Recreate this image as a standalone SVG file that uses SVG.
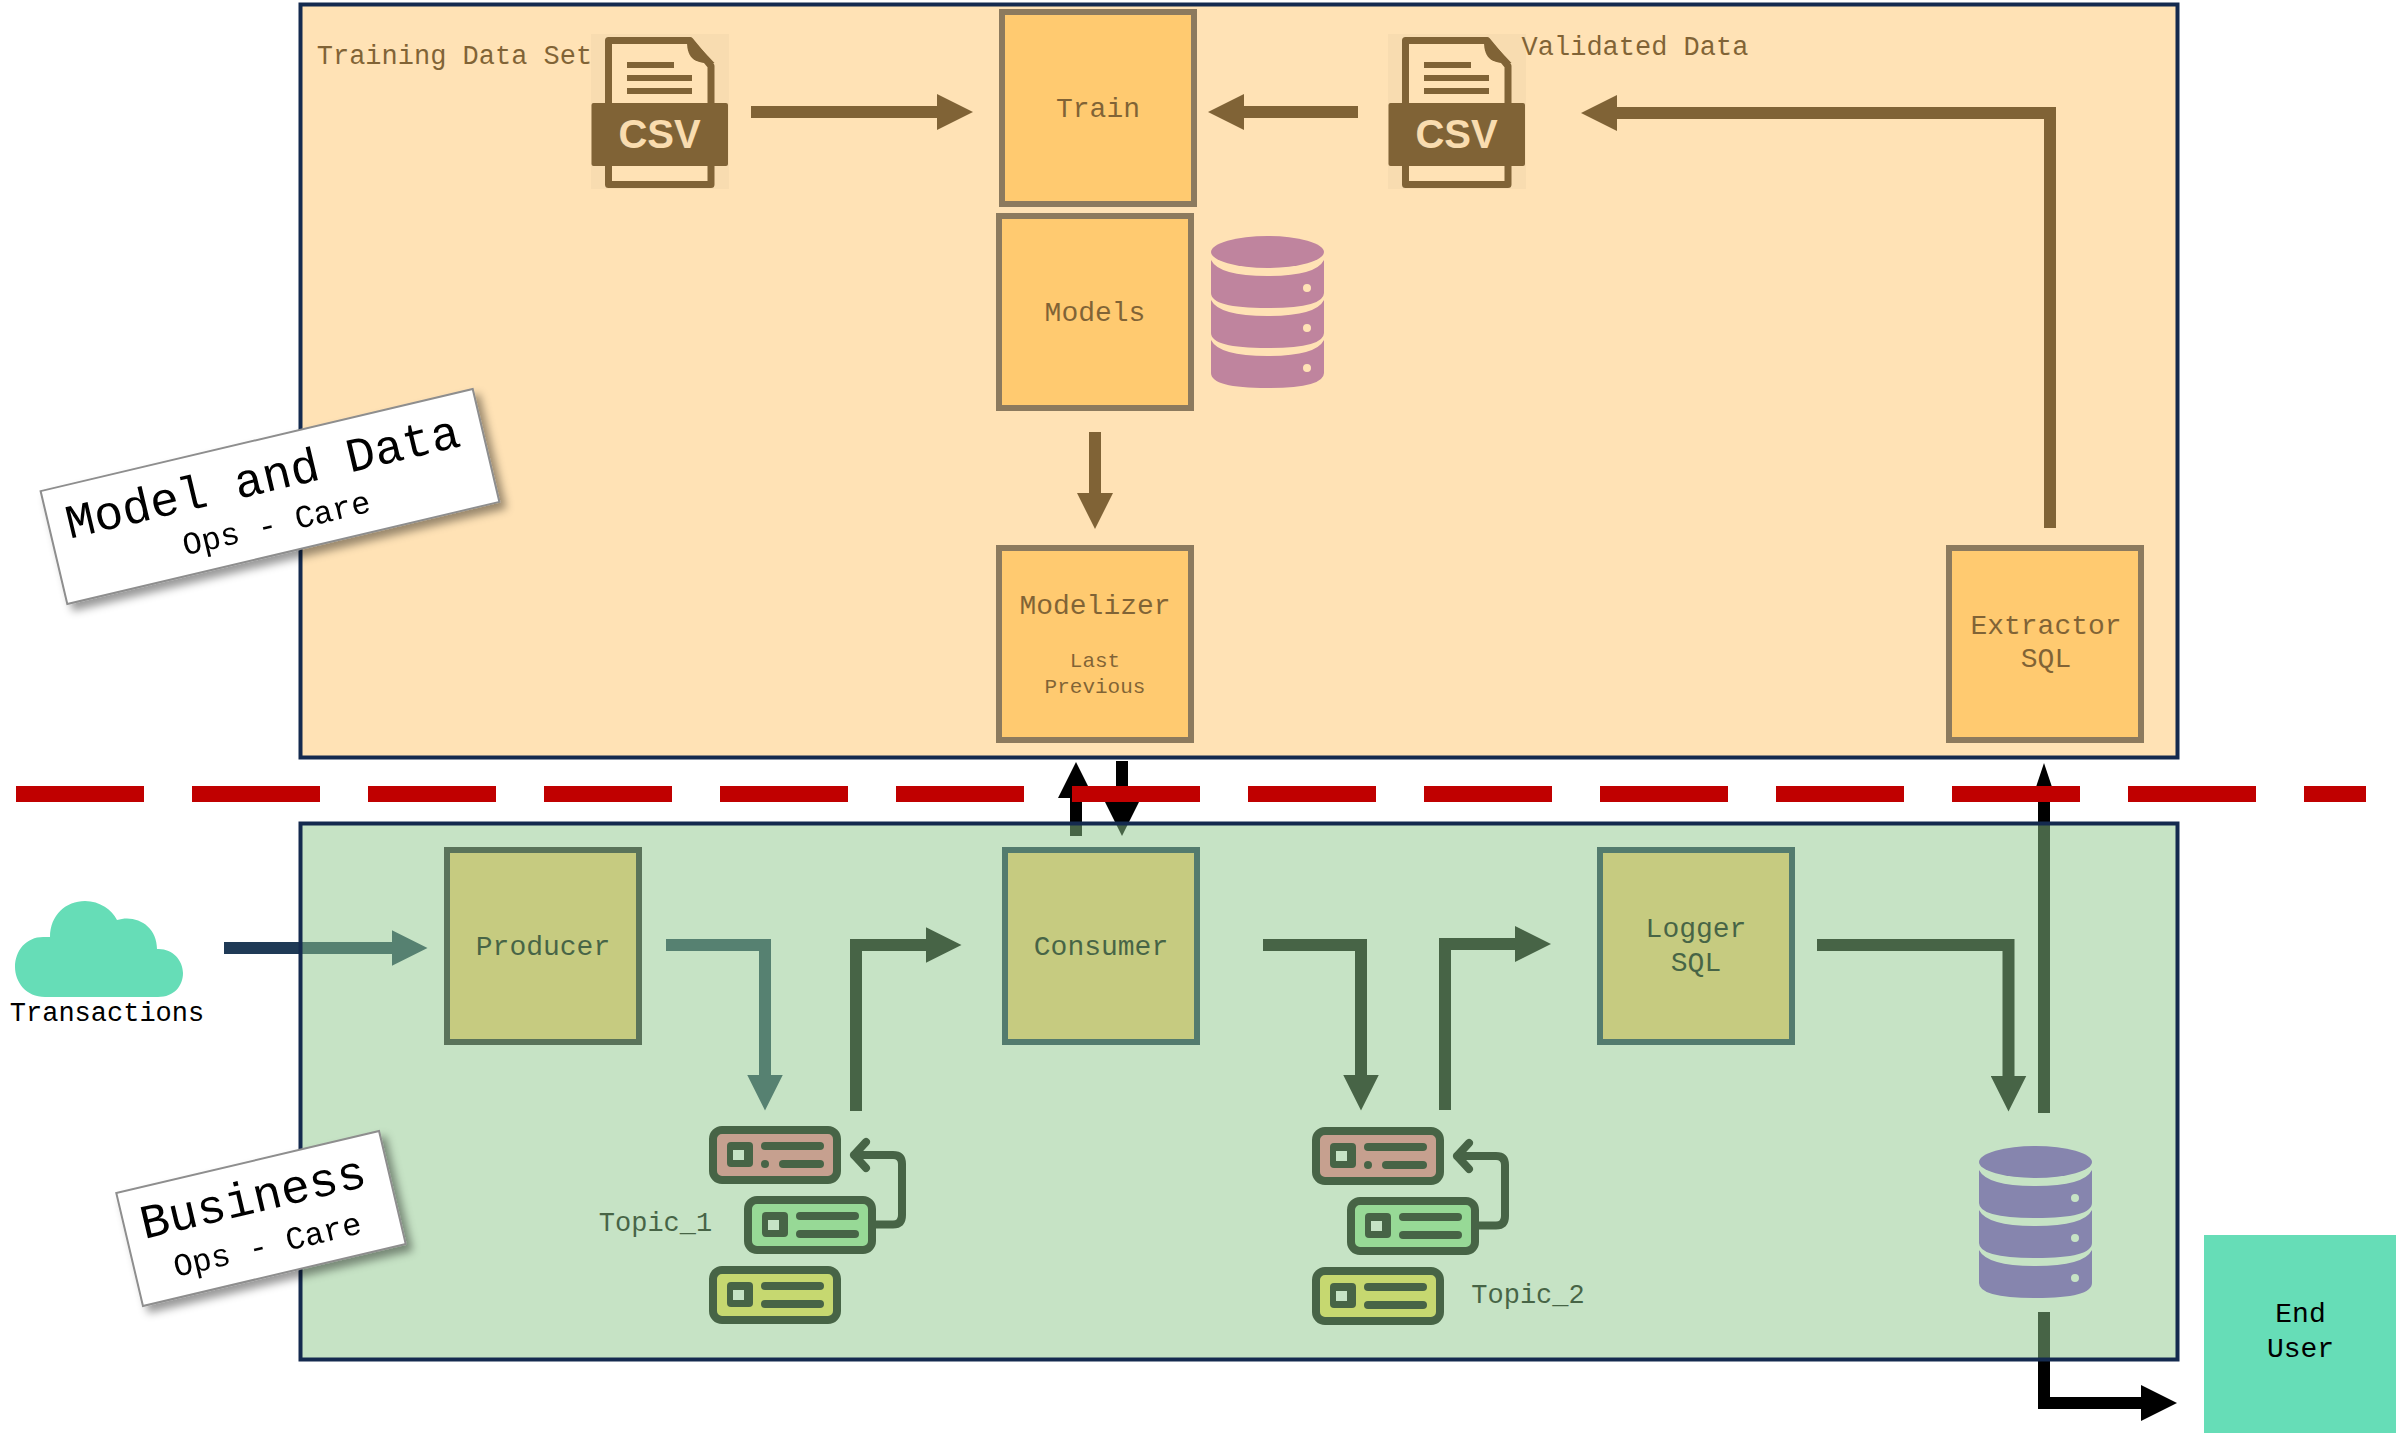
<svg xmlns="http://www.w3.org/2000/svg" xmlns:xlink="http://www.w3.org/1999/xlink" width="2402" height="1433" viewBox="0 0 2402 1433">
<style>
text{font-family:"Liberation Mono","Courier New",monospace;text-anchor:middle;fill:#000}
.lbl{font-size:28px}.sm{font-size:27px}.xs{font-size:21px}.big{font-size:48px}.sub{font-size:32px}
.box{fill:#FFCE74;stroke:#182E50;stroke-width:6}
.conn{fill:none;stroke-width:12;stroke-linejoin:miter}
.blk{stroke:#000;marker-end:url(#hBlack)}
.nvy{stroke:#1F3A56;marker-end:url(#hNavy)}
.tag{fill:#fff;stroke:#8E8E8E;stroke-width:2}
.ic{fill:#000}
.srv{stroke:#000;stroke-width:8;stroke-linecap:round;stroke-linejoin:round;fill:none}
.pan{stroke:#142A4F;stroke-width:4}
</style>
<defs>
<marker id="hBlack" markerUnits="userSpaceOnUse" markerWidth="36" markerHeight="36" refX="0.5" refY="18" orient="auto"><path d="M0 0L36 18L0 36Z" fill="#000"/></marker>
<marker id="hNavy" markerUnits="userSpaceOnUse" markerWidth="36" markerHeight="36" refX="0.5" refY="18" orient="auto"><path d="M0 0L36 18L0 36Z" fill="#1F3A56"/></marker>
<marker id="hNarrow" markerUnits="userSpaceOnUse" markerWidth="39" markerHeight="26" refX="0.5" refY="13" orient="auto"><path d="M0 0L39 13L0 26Z" fill="#000"/></marker>
<filter id="sh" x="-10%" y="-20%" width="125%" height="150%"><feDropShadow dx="6" dy="6" stdDeviation="4" flood-color="#000" flood-opacity="0.4"/></filter>
<g id="csv">
<rect x="591" y="34" width="138" height="155" fill="#F1F3F5"/>
<path d="M608.500 40.500H690L711 66V184.500H608.500Z" fill="#fff" stroke="#000" stroke-width="7" stroke-linejoin="round"/>
<path d="M690 37L714.500 63C700 64 687 62 687 42Z" class="ic"/>
<rect x="627" y="62" width="47" height="6" class="ic"/><rect x="627" y="75" width="65" height="6" class="ic"/><rect x="627" y="88" width="65" height="6" class="ic"/>
<rect x="591.500" y="103" width="136.500" height="63" rx="2" class="ic"/>
<text x="659.500" y="148" style="font-family:'Liberation Sans',Arial,sans-serif;font-weight:700;font-size:40px;fill:#F2F2F2">CSV</text>
</g>
<g id="db">
<ellipse cx="56.500" cy="16" rx="56.500" ry="16"/>
<path id="dbb" fill-rule="evenodd" d="M0 24Q8 40 56.500 40Q105 40 113 24V57Q113 72 56.500 72Q0 72 0 57ZM92 52a4 4 0 1 0 8 0a4 4 0 1 0-8 0Z"/>
<use xlink:href="#dbb" href="#dbb" y="40"/><use xlink:href="#dbb" href="#dbb" y="80"/>
</g>
<g id="topics">
<rect x="713" y="1130" width="124" height="50" rx="9" style="fill:#FF7892" class="srv"/>
<rect x="748" y="1200" width="124" height="50" rx="9" style="fill:#A0EAA0" class="srv"/>
<rect x="713" y="1270" width="124" height="50" rx="9" style="fill:#FFE854" class="srv"/>
<g id="srvIn"><rect x="727" y="1142" width="26" height="25" rx="4" class="ic"/><rect x="733" y="1150" width="11" height="10" fill="#fff"/></g>
<use xlink:href="#srvIn" href="#srvIn" x="35" y="70"/><use xlink:href="#srvIn" href="#srvIn" y="140"/>
<rect x="761" y="1142" width="63" height="8" rx="4" class="ic"/><circle cx="765" cy="1164" r="4" class="ic"/><rect x="779" y="1160" width="45" height="8" rx="4" class="ic"/>
<rect x="796" y="1212" width="63" height="8" rx="4" class="ic"/><rect x="796" y="1230" width="63" height="8" rx="4" class="ic"/>
<rect x="761" y="1282" width="63" height="8" rx="4" class="ic"/><rect x="761" y="1300" width="63" height="8" rx="4" class="ic"/>
<path class="srv" d="M876 1224.500H893Q902 1224.500 902 1215V1164Q902 1155 893 1155H854M866 1142L854 1155L866 1168"/>
</g>
</defs>

<g id="connectors">
<path class="conn blk" d="M751 112H937.500" />
<path class="conn blk" d="M1358 112H1243.500"/>
<path class="conn blk" d="M2050 528V113H1616.500"/>
<path class="conn blk" d="M1095 432V493.500"/>
<path class="conn nvy" d="M224 948H392"/>
<path class="conn nvy" d="M666 945H765V1075"/>
<path class="conn blk" d="M856 1111V945H926"/>
<path class="conn blk" d="M1263 945H1361V1075"/>
<path class="conn blk" d="M1445 1110V944H1515.500"/>
<path class="conn blk" d="M1817 945H2008.500V1076"/>
<path class="conn blk" d="M1076 836V797.500"/>
<path class="conn blk" d="M1122 761V800.500"/>
<path class="conn" stroke="#000" marker-end="url(#hNarrow)" d="M2044 1113V801.500"/>
<path class="conn blk" d="M2044 1312V1403H2141.500"/>
</g>

<g id="csv-training"><use xlink:href="#csv" href="#csv"/><text class="sm" x="454.500" y="64">Training Data Set</text></g>
<g id="csv-validated"><use xlink:href="#csv" href="#csv" x="797"/><text class="sm" x="1635" y="55">Validated Data</text></g>
<g id="train"><rect class="box" x="1002" y="12" width="192" height="192"/><text class="lbl" x="1098" y="117">Train</text></g>
<g id="models"><rect class="box" x="999" y="216" width="192" height="192"/><text class="lbl" x="1095" y="321">Models</text></g>
<g id="models-db" fill="#7E42D0"><use xlink:href="#db" href="#db" x="1211" y="236"/></g>
<g id="modelizer"><rect class="box" x="999" y="548" width="192" height="192"/><text class="lbl" x="1095" y="614">Modelizer</text><text class="xs" x="1095" y="667">Last</text><text class="xs" x="1095" y="693">Previous</text></g>
<g id="extractor"><rect class="box" x="1949" y="548" width="192" height="192"/><text class="lbl" x="2046" y="634">Extractor</text><text class="lbl" x="2046" y="667">SQL</text></g>

<g id="producer"><rect class="box" style="stroke:#261E28" x="447" y="850" width="192" height="192"/><text class="lbl" x="543" y="955">Producer</text></g>
<g id="consumer"><rect class="box" x="1005" y="850" width="192" height="192"/><text class="lbl" x="1101" y="955">Consumer</text></g>
<g id="logger"><rect class="box" x="1600" y="850" width="192" height="192"/><text class="lbl" x="1696" y="937">Logger</text><text class="lbl" x="1696" y="971">SQL</text></g>
<g id="topic-1"><use xlink:href="#topics" href="#topics"/><text class="sm" x="655.500" y="1231">Topic_1</text></g>
<g id="topic-2"><use xlink:href="#topics" href="#topics" x="603" y="1"/><text class="sm" x="1528" y="1303">Topic_2</text></g>
<g id="business-db" fill="#7E42D0"><use xlink:href="#db" href="#db" x="1979" y="1146"/></g>

<g id="panel-model"><rect class="pan" x="300.500" y="4.500" width="1877" height="753" fill="rgb(255,197,108)" fill-opacity="0.5"/></g>
<g id="panel-business"><rect class="pan" x="300.500" y="823.500" width="1877" height="536" fill="rgb(141,199,139)" fill-opacity="0.5"/></g>

<path id="separator" d="M16 794H2366" fill="none" stroke="#C00000" stroke-width="16" stroke-dasharray="128 48"/>

<g id="cloud"><path fill="#66DDB7" d="M45 997C26 997 15 982 15 967C15 950 27 936 45 937L50 937C50 915 66 901 85 901C100 901 112 910 117 920C135 914 157 925 157 949C172 948 183 960 183 973C183 986 174 997 158 997Z"/><text class="sm" x="107" y="1021">Transactions</text></g>
<g id="end-user"><rect x="2204" y="1235" width="192" height="198" fill="#66DDB7"/><text class="lbl" x="2300.500" y="1322">End</text><text class="lbl" x="2300.500" y="1357">User</text></g>

<g id="tag-model" filter="url(#sh)"><g transform="translate(270 496.500) rotate(-13.300)"><rect class="tag" x="-222" y="-58" width="444" height="116"/><text class="big" x="-3" y="-5">Model and Data</text><text class="sub" x="0" y="38">Ops - Care</text></g></g>
<g id="tag-business" filter="url(#sh)"><g transform="translate(261 1218.500) rotate(-13.300)"><rect class="tag" x="-135" y="-58" width="270" height="116"/><text class="big" x="-3" y="-7">Business</text><text class="sub" x="0" y="37.500">Ops - Care</text></g></g>
</svg>
